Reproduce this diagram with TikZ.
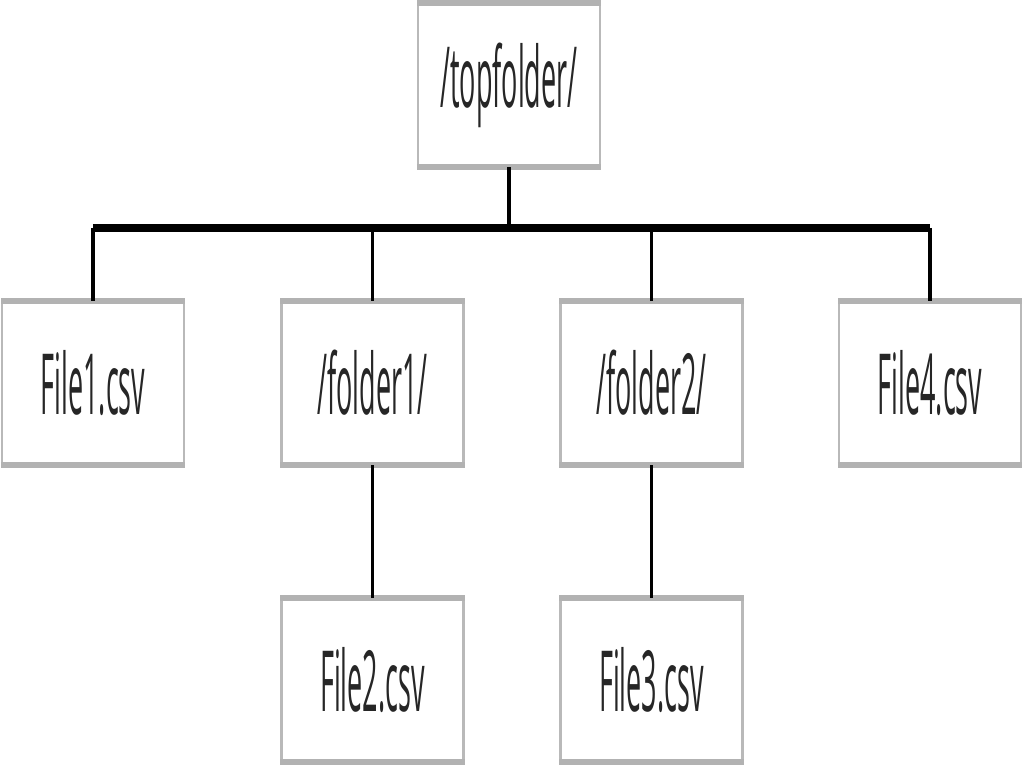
\documentclass[tikz,border=0pt]{standalone}
\usepackage{fontspec}
\newfontfamily\boxfont[FakeStretch=0.32]{Open Sans}
\tikzset{
  entry/.style={draw=gray!55, line width=0.6pt, fill=white,
    minimum width=1.82cm, minimum height=1.62cm, inner sep=0pt,
    font=\boxfont\fontsize{24}{28}\selectfont, text=black!85},
  link/.style={line width=0.9pt, black},
  trunk/.style={line width=2.4pt, black},
}
\begin{document}
\begin{tikzpicture}
    \useasboundingbox (0,0) rectangle (10.24,7.68);

    % --- folder tree ---------------------------------------------------
    \node[entry] (top) at (5.09,6.83) {/topfolder/};

    \node[entry] (f1)  at (0.93,3.85) {File1.csv};
    \node[entry] (d1)  at (3.725,3.85) {/folder1/};
    \node[entry] (d2)  at (6.515,3.85) {/folder2/};
    \node[entry] (f4)  at (9.30,3.85) {File4.csv};

    \node[entry] (f2)  at (3.725,0.88) {File2.csv};
    \node[entry] (f3)  at (6.515,0.88) {File3.csv};

    % thick grey edge on top and bottom of every box
    \foreach \n in {top,f1,d1,d2,f4,f2,f3}
      \draw[gray!60, line width=1.5pt]
        (\n.north west) -- (\n.north east)
        (\n.south west) -- (\n.south east);

    % --- connectors ----------------------------------------------------
    \coordinate (bar) at (5.09,5.40);
    \draw[trunk] (f1.north |- bar) -- (f4.north |- bar);
    \draw[link] (top.south) -- (bar);
    \foreach \n in {f1,d1,d2,f4}
      \draw[link] (\n.north |- bar) -- (\n.north);
    \draw[link] (d1.south) -- (f2.north);
    \draw[link] (d2.south) -- (f3.north);
\end{tikzpicture}
\end{document}
